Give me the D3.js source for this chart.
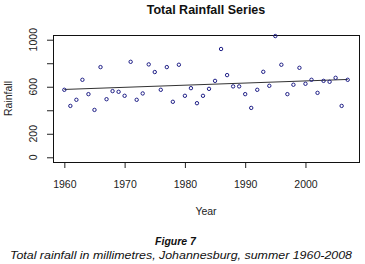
<!DOCTYPE html>
<html>
<head>
<meta charset="utf-8">
<script src="https://cdn.jsdelivr.net/npm/d3@7"></script>
<style>
  body { margin: 0; background: #fff; }
  svg { display: block; font-family: "Liberation Sans", Arial, sans-serif; }
</style>
</head>
<body>
<div id="chart"></div>
<script>
// Summer rainfall totals, Johannesburg
const years = d3.range(1960, 2008);
const rainfall = [
  574, 437, 489, 659, 537, 403, 767, 494, 563, 557,
  523, 812, 489, 543, 790, 725, 574, 767, 472, 787,
  523, 588, 460, 523, 582, 650, 921, 699, 603, 603,
  537, 420, 574, 727, 608, 1031, 787, 537, 617, 761,
  625, 659, 548, 650, 642, 676, 437, 659
];
// fitted straight line, end points
const trendYears = [1960, 2007];
const trendValues = [577, 662];
const xTicks = [1960, 1970, 1980, 1990, 2000];
const yTicks = [0, 200, 400, 600, 800, 1000];
const yTickLabels = ["0", "200", "", "600", "", "1000"];

(() => {
  const W = 365, H = 264;
  const box = { left: 53, right: 359, top: 35, bottom: 162 };

  const svg = d3.select("#chart")
    .append("svg")
    .attr("width", W)
    .attr("height", H);

  const x = d3.scaleLinear()
    .domain([1958.12, 2008.88])
    .range([box.left, box.right]);

  const y = d3.scaleLinear()
    .domain([-40, 1040])
    .range([box.bottom, box.top]);

  // title
  svg.append("text")
    .attr("x", (box.left + box.right) / 2)
    .attr("y", 14)
    .attr("text-anchor", "middle")
    .style("font-weight", "bold")
    .style("font-size", "12.5px")
    .attr("fill", "#111")
    .text("Total Rainfall Series");

  // x axis
  const xAxis = svg.append("g")
    .attr("transform", `translate(0,${box.bottom})`)
    .call(d3.axisBottom(x).tickValues(xTicks).tickFormat(d3.format("d"))
      .tickSize(6).tickPadding(13).tickSizeOuter(0));
  xAxis.select(".domain").remove();
  xAxis.selectAll("line").attr("stroke", "#222");
  xAxis.selectAll("text")
    .style("font-size", "10.5px")
    .style("font-family", "Liberation Sans, Arial, sans-serif")
    .attr("fill", "#222");

  // y axis
  const yAxis = svg.append("g")
    .attr("transform", `translate(${box.left},0)`)
    .call(d3.axisLeft(y).tickValues(yTicks).tickFormat((d, i) => yTickLabels[i])
      .tickSize(6).tickSizeOuter(0));
  yAxis.select(".domain").remove();
  yAxis.selectAll("line").attr("stroke", "#222");
  yAxis.selectAll("text")
    .attr("x", null).attr("dy", null)
    .attr("transform", d => `translate(-19,${y(d)}) rotate(-90)`)
    .attr("y", 0)
    .attr("text-anchor", "middle")
    .attr("dominant-baseline", "middle")
    .style("font-size", "10.5px")
    .style("font-family", "Liberation Sans, Arial, sans-serif")
    .attr("fill", "#222");
  // d3 puts tick text inside a translated g, so undo the double offset
  yAxis.selectAll(".tick").attr("transform", null);
  yAxis.selectAll(".tick line")
    .attr("y1", d => y(d) + 0.5).attr("y2", d => y(d) + 0.5);

  // box
  svg.append("rect")
    .attr("x", box.left + 0.5)
    .attr("y", box.top + 0.5)
    .attr("width", box.right - box.left)
    .attr("height", box.bottom - box.top)
    .attr("fill", "none")
    .attr("stroke", "#111")
    .attr("stroke-width", 1);

  // trend line
  svg.append("line")
    .attr("x1", x(trendYears[0])).attr("y1", y(trendValues[0]))
    .attr("x2", x(trendYears[1])).attr("y2", y(trendValues[1]))
    .attr("stroke", "#333")
    .attr("stroke-width", 1);

  // points
  svg.append("g")
    .selectAll("circle")
    .data(rainfall)
    .join("circle")
    .attr("cx", (d, i) => x(years[i]))
    .attr("cy", d => y(d))
    .attr("r", 1.7)
    .attr("fill", "none")
    .attr("stroke", "#1e1e86")
    .attr("stroke-width", 1);

  // axis titles
  svg.append("text")
    .attr("x", (box.left + box.right) / 2)
    .attr("y", 215)
    .attr("text-anchor", "middle")
    .style("font-size", "10.5px")
    .attr("fill", "#222")
    .text("Year");

  svg.append("text")
    .attr("transform", `translate(12,${(box.top + box.bottom) / 2}) rotate(-90)`)
    .attr("text-anchor", "middle")
    .style("font-size", "10.5px")
    .attr("fill", "#222")
    .text("Rainfall");

  // figure caption
  svg.append("text")
    .attr("x", 175.5)
    .attr("y", 245)
    .attr("text-anchor", "middle")
    .style("font-size", "10.5px")
    .style("font-weight", "bold")
    .style("font-style", "italic")
    .attr("fill", "#111")
    .text("Figure 7");

  svg.append("text")
    .attr("x", 181)
    .attr("y", 259)
    .attr("text-anchor", "middle")
    .style("font-size", "10.5px")
    .style("font-style", "italic")
    .attr("fill", "#111")
    .attr("textLength", 342)
    .attr("lengthAdjust", "spacingAndGlyphs")
    .text("Total rainfall in millimetres, Johannesburg, summer 1960-2008");
})();
</script>
</body>
</html>
